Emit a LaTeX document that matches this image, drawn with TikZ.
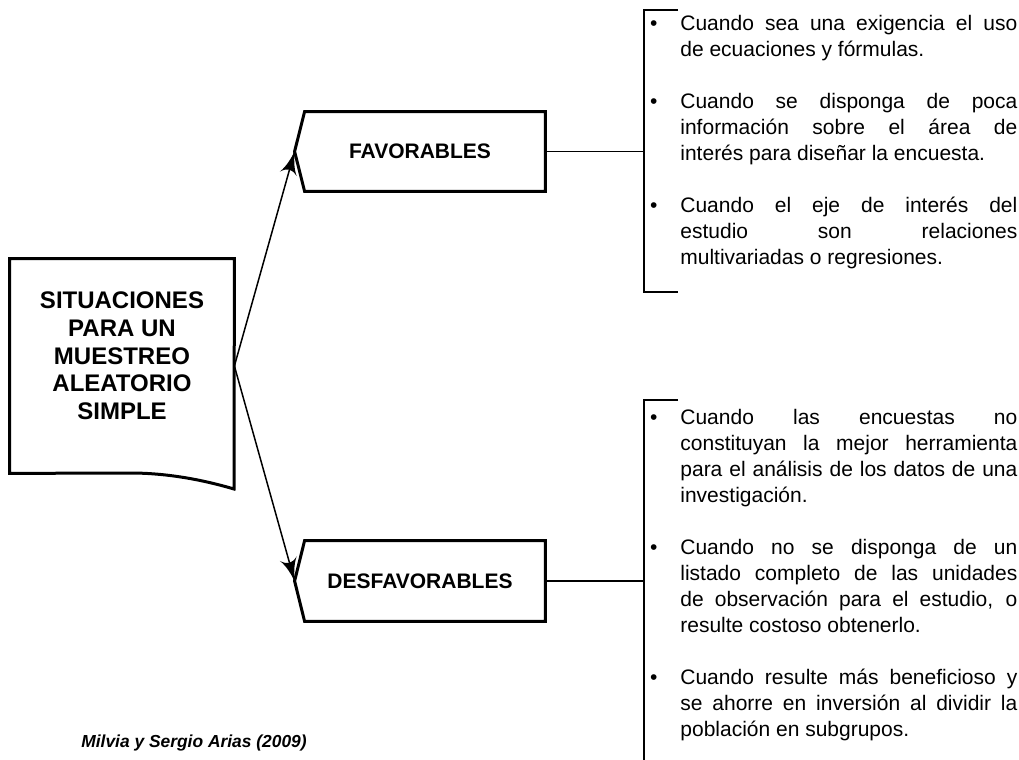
\documentclass[tikz,border=0pt]{standalone}
\usepackage{fontspec}
\setmainfont{Liberation Sans}
\usepackage{tikz}
\usetikzlibrary{arrows}
\usetikzlibrary{decorations.markings}
\usetikzlibrary{positioning}
\tikzset{headed/.style = {decoration={markings,
                                      mark=at position 1 with {\arrow[scale=2.3]{latex'}}},
                          postaction={decorate}}}
\tikzset{frame/.style = {line width=1.5pt, line join=miter},
         tag/.style = {inner sep=0pt, minimum width=125pt, font=\fontsize{10.5}{13}\selectfont\bfseries},
         itemlist/.style = {anchor=north west, inner sep=0pt, text width=168.5pt, align=justify,
                            font=\fontsize{10.5}{13}\selectfont}}
\newcommand{\bul}{\leavevmode\strut\makebox[0pt][r]{\textbullet\hspace*{11.5pt}}}
\newcommand{\listsetup}{\parindent=0pt\relax\tolerance=9999\relax\hyphenpenalty=10000\relax}

\begin{document}
\begin{tikzpicture}[x=0.5pt, y=-0.5pt]
      \useasboundingbox (0, 0) rectangle (1019, 760);

      \node [minimum width=112pt, minimum height=107pt, inner sep=0pt] (sit) at (122, 366) {};
      \coordinate (sitfoot) at (234, 489);
      \draw [frame] (sit.south west) -- (sit.north west) -- (sit.north east) -- (sitfoot)
            .. controls (200, 479) and (165, 473) .. (130, 473) -- cycle;
      \node [align=center, inner sep=0pt, font=\fontsize{12}{13.85}\selectfont\bfseries] (sittext) at (122, 356)
            {SITUACIONES\\PARA UN\\MUESTREO\\ALEATORIO\\SIMPLE};

      \node [tag, minimum height=39.5pt] (fav) at (420, 151.5) {FAVORABLES};
      \draw [frame] ([xshift=5pt]fav.north west) -- (fav.north east) -- (fav.south east)
            -- ([xshift=5pt]fav.south west) -- (fav.west) -- cycle;

      \node [tag, minimum height=40pt] (des) at (420, 581) {DESFAVORABLES};
      \draw [frame] ([xshift=5pt]des.north west) -- (des.north east) -- (des.south east)
            -- ([xshift=5pt]des.south west) -- (des.west) -- cycle;

      \draw [headed, line width=0.75pt] (sit.east) -- (fav.west);
      \draw [headed, line width=0.75pt] (sit.east) -- (des.west);

      \coordinate (favbar) at (644, 151.5);
      \coordinate (desbar) at (644, 581);
      \draw [line width=0.7pt] (fav.east) -- (favbar);
      \draw [line width=0.7pt] (des.east) -- (desbar);
      \draw [line width=1pt] (678, 10) -- (644, 10) -- (644, 292) -- (678, 292);
      \draw [line width=1pt] (678, 400) -- (644, 400) -- (644, 760);

      \node [itemlist] (favlist) at (680, 11.5) {\listsetup
        \bul Cuando sea una exigencia el uso\linebreak de ecuaciones y fórmulas.\par\vspace{13pt}
        \bul Cuando se disponga de poca\linebreak información sobre el área de\linebreak interés para diseñar la encuesta.\par\vspace{13pt}
        \bul Cuando el eje de interés del\linebreak estudio son relaciones\linebreak multivariadas o regresiones.\par};

      \node [itemlist] (deslist) at (680, 405.5) {\listsetup
        \bul Cuando las encuestas no\linebreak constituyan la mejor herramienta\linebreak para el análisis de los datos de una\linebreak investigación.\par\vspace{13pt}
        \bul Cuando no se disponga de un\linebreak listado completo de las unidades\linebreak de observación para el estudio, o\linebreak resulte costoso obtenerlo.\par\vspace{13pt}
        \bul Cuando resulte más beneficioso y\linebreak se ahorre en inversión al dividir la\linebreak población en subgrupos.\par};

      \node [inner sep=0pt, font=\fontsize{8.7}{10}\selectfont\bfseries\itshape] (source) at (194, 743)
            {Milvia y Sergio Arias (2009)};
    \end{tikzpicture}
\end{document}
